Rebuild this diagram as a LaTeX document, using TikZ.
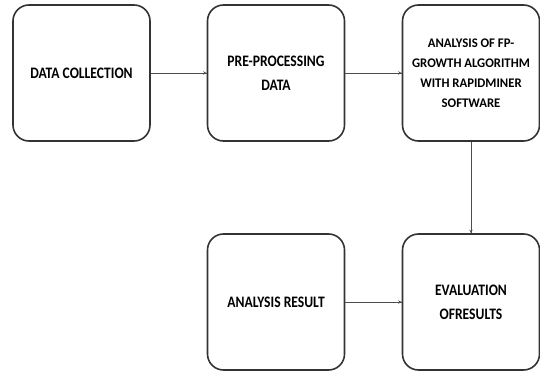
\documentclass[tikz,border=0pt]{standalone}
\usepackage{fontspec}
\setmainfont{Carlito}
\usetikzlibrary{decorations.markings}
\tikzstyle{step box}=[draw=black!80, line width=1.6pt, rounded corners=16pt, minimum width=137pt, minimum height=136pt, inner sep=2pt, align=center, font=\bfseries\fontsize{16}{24}\selectfont]
\providecommand{\stepbox}{\node[step box]}

\begin{document}
\begin{tikzpicture}[x=1pt, y=-1pt,
    every edge/.style={
        draw, draw=black!70, line width=0.6pt,
        postaction={decorate,
                    decoration={markings,mark=at position 1 with {\arrow[line width = 0.6pt]{stealth}}}
                   }
        }
]
\useasboundingbox (0,0) rectangle (540,374);
\stepbox (collect) at (81.5,73) {\scalebox{0.85}[1]{DATA COLLECTION}};
\stepbox (prep) at (276,73) {\scalebox{0.85}[1]{PRE-PROCESSING}\\\scalebox{0.85}[1]{DATA}};
\stepbox (fpg) at (471,73) [font=\bfseries\fontsize{15.5}{20}\selectfont] {\scalebox{0.82}[0.85]{ANALYSIS OF FP-}\\\scalebox{0.82}[0.85]{GROWTH ALGORITHM}\\\scalebox{0.82}[0.85]{WITH RAPIDMINER}\\\scalebox{0.82}[0.85]{SOFTWARE}};
\stepbox (result) at (276,302) {\scalebox{0.85}[1]{ANALYSIS RESULT}};
\stepbox (eval) at (471,302) {\scalebox{0.85}[1]{EVALUATION}\\\scalebox{0.85}[1]{OFRESULTS}};
\path
(collect) edge (prep)
(prep) edge (fpg)
(fpg) edge (eval)
(result) edge (eval)
;
\end{tikzpicture}
\end{document}
